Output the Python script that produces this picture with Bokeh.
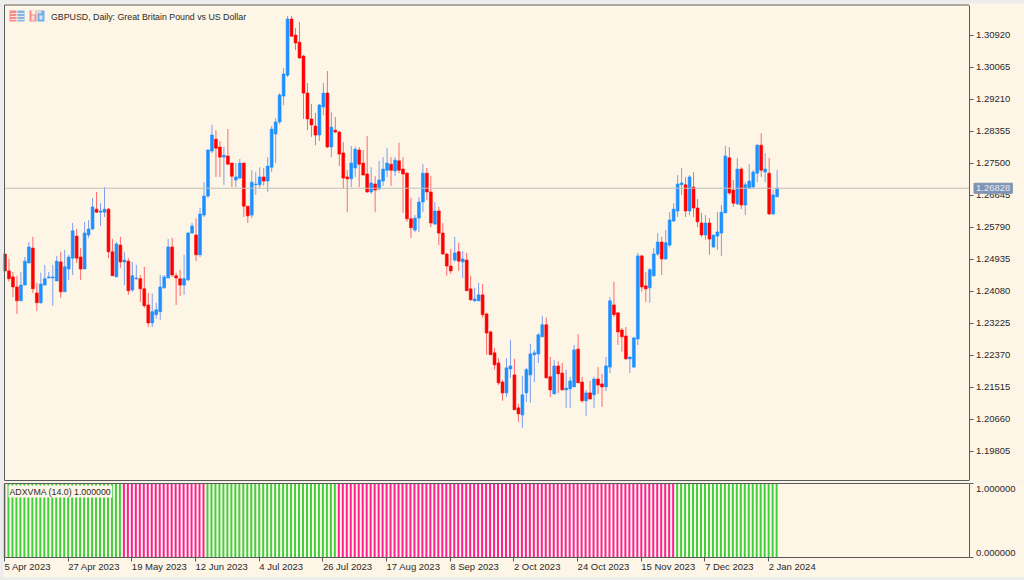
from bokeh.plotting import figure
from bokeh.layouts import column
from bokeh.models import Range1d, FixedTicker, Label, NumeralTickFormatter
from bokeh.embed import file_html
from bokeh.resources import INLINE

opens = [1.2507,1.2462,1.2446,1.2419,1.2382,1.2424,1.2483,1.2523,1.2403,1.2377,
1.2424,1.2443,1.2443,1.2435,1.2486,1.2406,1.2467,1.2496,1.2555,1.2499,
1.2467,1.2558,1.2574,1.2627,1.2619,1.2619,1.2627,1.2513,1.2446,1.2531,
1.2486,1.2488,1.2411,1.2441,1.2441,1.2414,1.2371,1.2323,1.2345,1.2353,
1.2417,1.2443,1.2526,1.2449,1.2441,1.2424,1.2438,1.2563,1.2558,1.2505,
1.2611,1.2662,1.2782,1.2814,1.2793,1.2766,1.2769,1.2750,1.2705,1.2710,
1.2750,1.2635,1.2611,1.2692,1.2692,1.2713,1.2702,1.2739,1.2828,1.2860,
1.2929,1.2985,1.3135,1.3092,1.3073,1.3036,1.2937,1.2868,1.2849,1.2825,
1.2900,1.2937,1.2793,1.2838,1.2833,1.2777,1.2713,1.2708,1.2737,1.2785,
1.2750,1.2721,1.2673,1.2694,1.2681,1.2702,1.2731,1.2747,1.2729,1.2756,
1.2734,1.2723,1.2601,1.2571,1.2603,1.2646,1.2723,1.2673,1.2587,1.2622,
1.2563,1.2507,1.2475,1.2491,1.2513,1.2486,1.2491,1.2414,1.2382,1.2382,
1.2398,1.2347,1.2299,1.2243,1.2216,1.2165,1.2136,1.2200,1.2184,1.2096,
1.2077,1.2136,1.2184,1.2238,1.2240,1.2286,1.2318,1.2179,1.2133,1.2208,
1.2189,1.2144,1.2147,1.2152,1.2253,1.2165,1.2115,1.2136,1.2131,1.2173,
1.2160,1.2152,1.2205,1.2371,1.2350,1.2304,1.2288,1.2227,1.2205,1.2280,
1.2502,1.2422,1.2417,1.2449,1.2507,1.2539,1.2494,1.2531,1.2595,1.2622,
1.2692,1.2692,1.2622,1.2686,1.2630,1.2590,1.2558,1.2590,1.2526,1.2555,
1.2563,1.2617,1.2764,1.2678,1.2641,1.2734,1.2638,1.2683,1.2686,1.2723,
1.2798,1.2726,1.2723,1.2614,1.2660]

highs = [1.2507,1.2494,1.2459,1.2449,1.2459,1.2499,1.2539,1.2553,1.2430,1.2457,
1.2478,1.2459,1.2478,1.2502,1.2513,1.2518,1.2505,1.2590,1.2574,1.2523,
1.2593,1.2598,1.2657,1.2673,1.2643,1.2686,1.2630,1.2547,1.2539,1.2553,
1.2513,1.2496,1.2486,1.2478,1.2451,1.2473,1.2403,1.2401,1.2377,1.2451,
1.2451,1.2547,1.2550,1.2457,1.2465,1.2505,1.2566,1.2590,1.2603,1.2630,
1.2699,1.2787,1.2852,1.2838,1.2809,1.2793,1.2841,1.2750,1.2750,1.2761,
1.2750,1.2635,1.2731,1.2726,1.2739,1.2737,1.2766,1.2849,1.2870,1.2937,
1.3004,1.3143,1.3143,1.3111,1.3127,1.3039,1.2964,1.2908,1.2884,1.2908,
1.2964,1.2996,1.2886,1.2873,1.2836,1.2806,1.2731,1.2796,1.2793,1.2793,
1.2785,1.2822,1.2739,1.2715,1.2756,1.2766,1.2790,1.2766,1.2766,1.2804,
1.2766,1.2726,1.2657,1.2611,1.2659,1.2747,1.2737,1.2715,1.2646,1.2633,
1.2590,1.2510,1.2521,1.2553,1.2537,1.2515,1.2510,1.2449,1.2417,1.2430,
1.2427,1.2350,1.2302,1.2256,1.2229,1.2171,1.2229,1.2278,1.2227,1.2107,
1.2181,1.2203,1.2267,1.2251,1.2296,1.2342,1.2337,1.2232,1.2224,1.2221,
1.2216,1.2198,1.2179,1.2264,1.2293,1.2179,1.2144,1.2168,1.2179,1.2205,
1.2187,1.2232,1.2392,1.2433,1.2350,1.2310,1.2312,1.2232,1.2286,1.2510,
1.2505,1.2459,1.2470,1.2523,1.2563,1.2553,1.2571,1.2619,1.2643,1.2718,
1.2737,1.2713,1.2718,1.2726,1.2654,1.2617,1.2611,1.2603,1.2558,1.2619,
1.2638,1.2796,1.2793,1.2705,1.2764,1.2739,1.2699,1.2747,1.2731,1.2801,
1.2830,1.2777,1.2764,1.2678,1.2731]

lows = [1.2462,1.2433,1.2392,1.2347,1.2382,1.2424,1.2483,1.2403,1.2355,1.2374,
1.2424,1.2443,1.2369,1.2435,1.2390,1.2406,1.2438,1.2451,1.2483,1.2438,
1.2467,1.2550,1.2571,1.2617,1.2582,1.2606,1.2496,1.2449,1.2446,1.2470,
1.2424,1.2398,1.2406,1.2438,1.2379,1.2363,1.2312,1.2312,1.2334,1.2331,
1.2414,1.2443,1.2446,1.2371,1.2395,1.2398,1.2435,1.2561,1.2488,1.2499,
1.2606,1.2657,1.2777,1.2713,1.2713,1.2692,1.2747,1.2686,1.2686,1.2708,
1.2606,1.2590,1.2603,1.2665,1.2683,1.2689,1.2673,1.2726,1.2750,1.2854,
1.2905,1.2980,1.3089,1.3052,1.3028,1.2868,1.2838,1.2820,1.2798,1.2809,
1.2878,1.2790,1.2766,1.2830,1.2742,1.2683,1.2619,1.2686,1.2713,1.2686,
1.2718,1.2670,1.2668,1.2619,1.2678,1.2689,1.2713,1.2689,1.2715,1.2723,
1.2617,1.2593,1.2550,1.2566,1.2566,1.2619,1.2651,1.2579,1.2585,1.2531,
1.2505,1.2449,1.2454,1.2486,1.2462,1.2443,1.2409,1.2382,1.2379,1.2382,
1.2337,1.2238,1.2238,1.2198,1.2157,1.2115,1.2125,1.2176,1.2091,1.2059,
1.2043,1.2112,1.2110,1.2165,1.2216,1.2286,1.2176,1.2125,1.2133,1.2136,
1.2144,1.2096,1.2096,1.2152,1.2163,1.2110,1.2075,1.2118,1.2096,1.2133,
1.2099,1.2141,1.2189,1.2339,1.2264,1.2246,1.2224,1.2189,1.2203,1.2264,
1.2406,1.2379,1.2377,1.2446,1.2502,1.2451,1.2491,1.2526,1.2593,1.2606,
1.2665,1.2606,1.2611,1.2606,1.2579,1.2553,1.2545,1.2505,1.2523,1.2518,
1.2502,1.2617,1.2665,1.2633,1.2638,1.2627,1.2611,1.2683,1.2683,1.2699,
1.2713,1.2699,1.2611,1.2611,1.2660]

closes = [1.2462,1.2441,1.2419,1.2382,1.2424,1.2488,1.2526,1.2414,1.2377,1.2427,
1.2441,1.2446,1.2446,1.2488,1.2406,1.2473,1.2499,1.2569,1.2496,1.2467,
1.2563,1.2574,1.2633,1.2619,1.2622,1.2627,1.2513,1.2449,1.2534,1.2486,
1.2491,1.2409,1.2449,1.2443,1.2414,1.2369,1.2323,1.2353,1.2358,1.2419,
1.2446,1.2526,1.2451,1.2443,1.2424,1.2441,1.2563,1.2582,1.2505,1.2614,
1.2662,1.2785,1.2825,1.2790,1.2766,1.2771,1.2747,1.2715,1.2713,1.2750,
1.2635,1.2609,1.2699,1.2694,1.2713,1.2702,1.2742,1.2841,1.2860,1.2932,
1.2988,1.3135,1.3089,1.3071,1.3031,1.2937,1.2868,1.2852,1.2825,1.2905,
1.2937,1.2793,1.2846,1.2833,1.2774,1.2710,1.2708,1.2750,1.2787,1.2747,
1.2718,1.2673,1.2697,1.2678,1.2705,1.2734,1.2750,1.2731,1.2758,1.2731,
1.2721,1.2601,1.2577,1.2603,1.2646,1.2723,1.2673,1.2590,1.2622,1.2563,
1.2507,1.2475,1.2462,1.2510,1.2488,1.2494,1.2409,1.2385,1.2387,1.2398,
1.2345,1.2296,1.2238,1.2211,1.2163,1.2136,1.2203,1.2208,1.2091,1.2080,
1.2131,1.2198,1.2240,1.2243,1.2291,1.2318,1.2176,1.2144,1.2208,1.2187,
1.2144,1.2149,1.2168,1.2251,1.2163,1.2115,1.2136,1.2120,1.2173,1.2157,
1.2152,1.2208,1.2382,1.2345,1.2299,1.2286,1.2227,1.2232,1.2283,1.2502,
1.2419,1.2414,1.2465,1.2507,1.2539,1.2494,1.2537,1.2598,1.2627,1.2694,
1.2697,1.2622,1.2713,1.2630,1.2593,1.2558,1.2590,1.2547,1.2558,1.2566,
1.2619,1.2769,1.2670,1.2643,1.2734,1.2638,1.2692,1.2702,1.2726,1.2798,
1.2731,1.2734,1.2614,1.2665,1.26828]

# Indicator: (first bar, last bar, state) runs; all values are 1
adx_states = [(0, 29, 1), (30, 50, 0), (51, 83, 1), (84, 168, 0), (169, 194, 1)]
adx_value = 1.0

price_ticks = [1.19805, 1.20660, 1.21515, 1.22370, 1.23225, 1.24080, 1.24935,
               1.25790, 1.26645, 1.27500, 1.28355, 1.29210, 1.30065, 1.30920]
date_ticks = [0, 16, 32, 48, 64, 80, 96, 112, 128, 144, 160, 176, 192]
date_labels = ["5 Apr 2023", "27 Apr 2023", "19 May 2023", "12 Jun 2023", "4 Jul 2023",
               "26 Jul 2023", "17 Aug 2023", "8 Sep 2023", "2 Oct 2023", "24 Oct 2023",
               "15 Nov 2023", "7 Dec 2023", "2 Jan 2024"]
last_price = 1.26828

BG = "#fdf5e6"
FRAME = "#5a5a5a"
TXT = "#2a2a2a"
FONT = "Liberation Sans"
FS = "9.5px"

EDGE = 3
W = 1024 - EDGE
LEFT, RIGHT = 4, 968.5
BAR0, BAR_STEP = 4.5, 3.98
PX_PRICE = 0.00855 / 32
SPLIT, BOTTOM = 481, 577

def X(px):
    return (px - BAR0) / BAR_STEP

def Y(py):
    return 1.30920 - (py - 34.6) * PX_PRICE

def XQ(px):
    return (px - 4) / BAR_STEP

def YQ(py):
    return (557 - py) / 74

def make_fig(h, xr, yr, m):
    f = figure(width=W, height=h, output_backend="svg", toolbar_location=None,
               x_range=xr, y_range=yr, y_axis_location="right",
               background_fill_color=BG, border_fill_color=BG, outline_line_color=None,
               min_border=0, tools="", margin=m)
    f.grid.visible = False
    return f

def style_axis(a):
    a.axis_line_color = FRAME
    a.major_tick_line_color = FRAME
    a.major_tick_in = 0
    a.major_tick_out = 4
    a.minor_tick_line_color = None

p = make_fig(SPLIT - EDGE, Range1d(X(EDGE), X(1024)), Range1d(Y(SPLIT), Y(EDGE)), (EDGE, 0, 0, EDGE))
p.xaxis.visible = False
ay = p.yaxis[0]
ay.fixed_location = X(RIGHT)
ay.bounds = (Y(480), Y(5))
ay.ticker = FixedTicker(ticks=price_ticks)
ay.formatter = NumeralTickFormatter(format="0.00000")
style_axis(ay)
ay.major_label_standoff = 3
ay.major_label_text_font = FONT
ay.major_label_text_font_size = FS
ay.major_label_text_color = TXT

idx = list(range(len(opens)))
up = [i for i in idx if closes[i] >= opens[i]]
dn = [i for i in idx if closes[i] < opens[i]]
for group, body, wick in ((up, "#1e90ff", "#7f9fee"), (dn, "#ff0000", "#ff6a6a")):
    p.segment(group, [highs[i] for i in group], group, [lows[i] for i in group],
              line_color=wick, line_width=1)
    p.vbar(x=group, width=0.72,
           top=[max(opens[i], closes[i]) for i in group],
           bottom=[min(opens[i], closes[i]) for i in group],
           fill_color=body, line_color=body, line_width=0.6)

p.line([X(LEFT), X(RIGHT)], [last_price, last_price], line_color="#c2c0b8", line_width=1)
# pane border
p.line([X(RIGHT), X(LEFT), X(LEFT), X(RIGHT)], [Y(4.5), Y(4.5), Y(480), Y(480)],
       line_color=FRAME, line_width=1)

p.add_layout(Label(x=X(973.5), y=last_price, text="%.5f" % last_price, text_color="#e8ecf4",
                   text_font=FONT, text_font_size=FS, text_baseline="middle",
                   background_fill_color="#7f93b3", border_line_color="#7f93b3", padding=2))
p.add_layout(Label(x=X(50.5), y=Y(16), text="GBPUSD, Daily:  Great Britain Pound vs US Dollar",
                   text_color=TXT, text_font=FONT, text_font_size="8.8px", text_baseline="middle"))

# small toolbar style icons in the corner
def box(l, r, t, b, c):
    p.quad(left=X(l), right=X(r), top=Y(t), bottom=Y(b), fill_color=c, line_color=None)

for l, r, c in ((9, 16, "#f58c8c"), (17, 24, "#7fb6e8"), (29, 36, "#f58c8c"), (37, 44, "#6fb0ea")):
    box(l, r, 10, 21, c)
for yy in (12.5, 15.5, 18.5):
    box(10, 23.5, yy, yy + 1, "#fbe3dc")
box(31, 35, 10, 14, BG)
box(36, 41, 10, 13, "#d8d8d8")
box(31, 34, 15, 20, "#fbe3dc")
box(39, 42, 15, 19, "#d6e8f5")

q = make_fig(BOTTOM - SPLIT, Range1d(XQ(EDGE), XQ(1024)), Range1d(YQ(BOTTOM), YQ(SPLIT)), (0, 0, 0, EDGE))

for first, last, state in adx_states:
    xs = list(range(first, last + 1))
    q.vbar(x=xs, width=0.5, top=[adx_value] * len(xs), bottom=0,
           fill_color="#3fd03f" if state else "#ff1f93", line_color=None)

q.line([XQ(RIGHT), XQ(LEFT), XQ(LEFT)], [1, 1, 0], line_color=FRAME, line_width=1)

qy = q.yaxis[0]
qy.fixed_location = XQ(RIGHT)
qy.bounds = (0, 1)
qy.ticker = FixedTicker(ticks=[0, 1])
qy.major_label_overrides = {0: "", 1: ""}
style_axis(qy)

qx = q.xaxis[0]
qx.fixed_location = 0
qx.bounds = (XQ(LEFT), XQ(RIGHT))
qx.ticker = FixedTicker(ticks=date_ticks)
qx.major_label_overrides = {t: "" for t in date_ticks}
style_axis(qx)

for t, lab in zip(date_ticks, date_labels):
    q.add_layout(Label(x=t, y=YQ(566), text=lab, text_color=TXT, text_font=FONT,
                       text_font_size="9.5px", text_baseline="middle"))
for val, py in ((1, 488), (0, 552)):
    q.add_layout(Label(x=XQ(975.5), y=YQ(py), text="%.6f" % val, text_color=TXT,
                       text_font=FONT, text_font_size=FS, text_baseline="middle"))
q.add_layout(Label(x=XQ(8), y=YQ(491), text="ADXVMA (14.0) 1.000000", text_color=TXT,
                   text_font=FONT, text_font_size="8.8px", text_baseline="middle",
                   background_fill_color=BG, padding=1))

page = column(p, q, spacing=0, styles={"position": "absolute", "left": "0px", "top": "0px",
                                       "background-color": "#ececec", "width": "1024px",
                                       "height": "580px"})
open("out.html", "w").write(file_html(page, INLINE))
